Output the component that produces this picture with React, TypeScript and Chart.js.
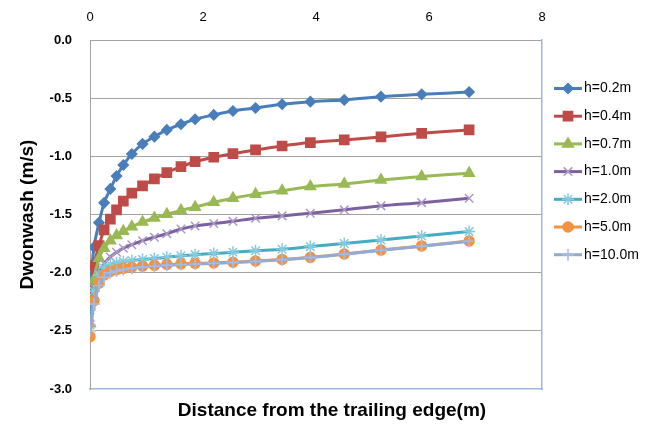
import React, { useEffect, useRef } from "react";
import { Chart, registerables } from "chart.js";

Chart.register(...registerables);

const FONT = "'Liberation Sans', Arial, sans-serif";

const distance = [0, 0.07, 0.16, 0.25, 0.36, 0.47, 0.59, 0.74, 0.93, 1.14, 1.36, 1.61, 1.86, 2.19, 2.53, 2.93, 3.4, 3.9, 4.5, 5.15, 5.87, 6.71];

const h02 = [-2.15, -1.78, -1.57, -1.40, -1.28, -1.17, -1.075, -0.98, -0.893, -0.831, -0.773, -0.724, -0.681, -0.644, -0.61, -0.585, -0.552, -0.53, -0.515, -0.487, -0.467, -0.447];
const h04 = [-2.28, -1.94, -1.767, -1.632, -1.54, -1.46, -1.385, -1.317, -1.254, -1.194, -1.14, -1.089, -1.046, -1.008, -0.977, -0.945, -0.911, -0.882, -0.859, -0.833, -0.802, -0.773];
const h07 = [-2.44, -2.06, -1.875, -1.79, -1.725, -1.68, -1.645, -1.605, -1.565, -1.53, -1.497, -1.465, -1.437, -1.395, -1.36, -1.325, -1.295, -1.26, -1.237, -1.203, -1.174, -1.145];
const h10 = [-2.38, -2.13, -2.0, -1.925, -1.865, -1.825, -1.79, -1.76, -1.725, -1.695, -1.665, -1.625, -1.598, -1.578, -1.558, -1.532, -1.512, -1.489, -1.46, -1.426, -1.398, -1.36];
const h20 = [-2.45, -2.16, -2.02, -1.96, -1.93, -1.915, -1.905, -1.895, -1.887, -1.878, -1.868, -1.855, -1.845, -1.835, -1.825, -1.812, -1.798, -1.776, -1.75, -1.72, -1.685, -1.647];
const h50 = [-2.55, -2.24, -2.09, -2.02, -1.99, -1.975, -1.963, -1.953, -1.944, -1.937, -1.93, -1.924, -1.92, -1.916, -1.91, -1.9, -1.886, -1.868, -1.84, -1.806, -1.77, -1.728];
const h100 = [-2.50, -2.27, -2.11, -2.04, -2.0, -1.985, -1.972, -1.962, -1.952, -1.944, -1.937, -1.93, -1.925, -1.92, -1.913, -1.903, -1.888, -1.87, -1.842, -1.808, -1.772, -1.73];

const seriesLabels = ["h=0.2m", "h=0.4m", "h=0.7m", "h=1.0m", "h=2.0m", "h=5.0m", "h=10.0m"];
const seriesValues = [h02, h04, h07, h10, h20, h50, h100];
const yTicks = { min: -3, max: 0, step: 0.5 };
const xTicks = { min: 0, max: 8, step: 2 };
const xTitle = "Distance from the trailing edge(m)";
const yTitle = "Dwonwash (m/s)";

const lineColors = ["#4A7EBB", "#BE4B48", "#98B954", "#7D60A0", "#46AAC5", "#F39240", "#94AAD6"];
const markerFill = ["#4A7EBB", "#BE4B48", "#98B954", "transparent", "transparent", "#F39240", "transparent"];
const markerBorder = ["#4A7EBB", "#BE4B48", "#98B954", "#A999C4", "#86CBDD", "#F39240", "#A9BCE0"];
const markerStyle = ["rectRot", "rect", "triangle", "crossRot", "star", "circle", "cross"];
const markerRadius = [5, 6.5, 6, 6, 6, 5, 6];

function drawMarker(ctx: CanvasRenderingContext2D, i: number, x: number, y: number) {
  const r = markerRadius[i];
  const style = markerStyle[i];
  ctx.save();
  ctx.fillStyle = markerFill[i];
  ctx.strokeStyle = markerBorder[i];
  ctx.lineWidth = 1.5;
  ctx.beginPath();
  if (style === "rectRot") {
    ctx.moveTo(x, y - r); ctx.lineTo(x + r, y); ctx.lineTo(x, y + r); ctx.lineTo(x - r, y); ctx.closePath();
    ctx.fill(); ctx.stroke();
  } else if (style === "rect") {
    const s = r * Math.SQRT1_2;
    ctx.rect(x - s, y - s, 2 * s, 2 * s); ctx.fill(); ctx.stroke();
  } else if (style === "triangle") {
    const h = r * 1.5;
    ctx.moveTo(x, y - r); ctx.lineTo(x + r * 0.9, y + h - r); ctx.lineTo(x - r * 0.9, y + h - r); ctx.closePath();
    ctx.fill(); ctx.stroke();
  } else if (style === "circle") {
    ctx.arc(x, y, r, 0, Math.PI * 2); ctx.fill(); ctx.stroke();
  } else {
    if (style === "cross" || style === "star") {
      ctx.moveTo(x - r, y); ctx.lineTo(x + r, y); ctx.moveTo(x, y - r); ctx.lineTo(x, y + r);
    }
    if (style === "crossRot" || style === "star") {
      const e = r * Math.SQRT1_2;
      ctx.moveTo(x - e, y - e); ctx.lineTo(x + e, y + e); ctx.moveTo(x + e, y - e); ctx.lineTo(x - e, y + e);
    }
    ctx.stroke();
  }
  ctx.restore();
}

const legendPlugin = {
  id: "sideLegend",
  afterDraw(chart: any) {
    const ctx: CanvasRenderingContext2D = chart.ctx;
    const x0 = 546, x1 = 574, xt = 576, y0 = 80.5, dy = 27.7;
    seriesLabels.forEach((label, i) => {
      const y = y0 + i * dy;
      ctx.save();
      ctx.strokeStyle = lineColors[i];
      ctx.lineWidth = 3;
      ctx.beginPath(); ctx.moveTo(x0, y); ctx.lineTo(x1, y); ctx.stroke();
      ctx.restore();
      drawMarker(ctx, i, (x0 + x1) / 2, y);
      ctx.save();
      ctx.fillStyle = "#000";
      ctx.font = `14px ${FONT}`;
      ctx.textBaseline = "middle";
      ctx.textAlign = "left";
      ctx.fillText(label, xt, y);
      ctx.restore();
    });
    // bottom axis title (slightly right of plot centre, as in the original)
    ctx.save();
    ctx.fillStyle = "#000";
    ctx.font = `bold 19px ${FONT}`;
    ctx.textAlign = "center";
    ctx.textBaseline = "middle";
    ctx.fillText(xTitle, 324, 403);
    ctx.restore();
  },
};

export default function App() {
  const ref = useRef<HTMLCanvasElement | null>(null);
  useEffect(() => {
    if (!ref.current) return;
    const n = seriesLabels.length;
    const chart = new Chart(ref.current, {
      type: "line",
      data: {
        datasets: seriesLabels.map((label, i) => ({
          label,
          data: distance.map((x, k) => ({ x, y: seriesValues[i][k] })),
          borderColor: lineColors[i],
          backgroundColor: lineColors[i],
          borderWidth: 3,
          pointStyle: markerStyle[i] as any,
          pointRadius: markerRadius[i],
          pointBackgroundColor: markerFill[i],
          pointBorderColor: markerBorder[i],
          pointBorderWidth: 1.5,
          tension: 0.25,
          fill: false,
          order: n - i,
          xAxisID: "x",
          yAxisID: "y",
        })),
      },
      options: {
        animation: false,
        responsive: true,
        maintainAspectRatio: false,
        layout: { padding: { left: 8, right: 107, top: 0, bottom: 0 } },
        plugins: { legend: { display: false }, tooltip: { enabled: false } },
        scales: {
          x: {
            type: "linear",
            position: "top",
            min: xTicks.min,
            max: xTicks.max,
            ticks: { stepSize: xTicks.step, font: { size: 13, family: FONT }, color: "#000", padding: 15 },
            grid: { display: false, drawTicks: false },
            border: { display: false },
            afterFit: (s: any) => { s.height = 32; },
          },
          x2: {
            type: "linear",
            position: "bottom",
            min: xTicks.min,
            max: xTicks.max,
            ticks: { display: false },
            grid: { display: false, drawTicks: false },
            border: { display: true, color: "#9DB8DC", width: 1.5 },
            afterFit: (s: any) => { s.height = 35; },
          },
          y: {
            type: "linear",
            position: "left",
            min: yTicks.min,
            max: yTicks.max,
            ticks: {
              stepSize: yTicks.step,
              callback: (v: any) => Number(v).toFixed(1),
              font: { size: 13, weight: "bold", family: FONT },
              color: "#000",
              padding: 18,
            },
            grid: {
              color: (c: any) => (c.tick && c.tick.value === yTicks.min ? "rgba(0,0,0,0)" : "#A3A3A3"),
              drawTicks: false,
            },
            border: { display: true, color: "#A3A3A3" },
            title: {
              display: true,
              text: yTitle,
              font: { size: 19, weight: "bold", family: FONT },
              color: "#000",
              padding: { top: 0, bottom: 0 },
            },
            afterFit: (s: any) => { s.width = 74; },
          },
          y2: {
            type: "linear",
            position: "right",
            min: yTicks.min,
            max: yTicks.max,
            ticks: { display: false },
            grid: { display: false, drawTicks: false },
            border: { display: true, color: "#9DB8DC", width: 1.5 },
            afterFit: (s: any) => { s.width = 0; },
          },
        },
      } as any,
      plugins: [legendPlugin],
    });
    return () => chart.destroy();
  }, []);
  return (
    <div style={{ width: 641, height: 416, position: "relative" }}>
      <canvas ref={ref} />
    </div>
  );
}
